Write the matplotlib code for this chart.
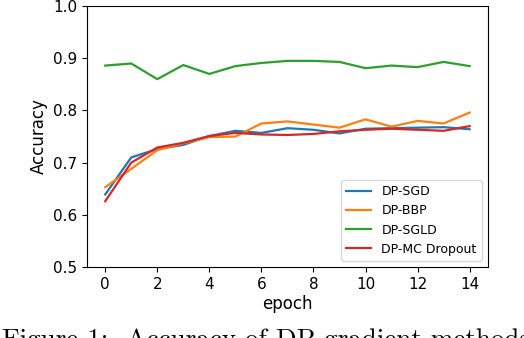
import matplotlib.pyplot as plt

# accuracy per epoch
epochs = list(range(15))
acc_sgd = [0.639, 0.710, 0.726, 0.734, 0.751, 0.761, 0.757, 0.766, 0.763,
           0.756, 0.765, 0.766, 0.767, 0.768, 0.764]
acc_bbp = [0.653, 0.688, 0.724, 0.737, 0.749, 0.750, 0.775, 0.779, 0.773,
           0.767, 0.783, 0.769, 0.780, 0.775, 0.796]
acc_sgld = [0.886, 0.890, 0.860, 0.887, 0.870, 0.885, 0.891, 0.895, 0.895,
            0.893, 0.881, 0.886, 0.883, 0.893, 0.885]
acc_mc = [0.626, 0.700, 0.729, 0.738, 0.751, 0.757, 0.754, 0.753, 0.755,
          0.760, 0.763, 0.765, 0.763, 0.761, 0.770]
noms = ["DP-SGD", "DP-BBP", "DP-SGLD", "DP-MC Dropout"]

fig = plt.figure(figsize=(5.24, 3.38), dpi=100)
ax = fig.add_axes([0.166, 0.21, 0.765, 0.772])

for serie, nom in zip([acc_sgd, acc_bbp, acc_sgld, acc_mc], noms):
    ax.plot(epochs, serie, label=nom, linewidth=1.6)

ax.set_ylim(0.5, 1.0)
ax.set_xticks(range(0, 15, 2))
ax.tick_params(labelsize=11)
ax.set_xlabel("epoch", fontsize=12, labelpad=2)
ax.set_ylabel("Accuracy", fontsize=12)
ax.legend(loc="lower right", fontsize=9)

# légende de la figure (coupée en bas comme dans le papier)
fig.text(0.003, -0.027, "Figure 1:  Accuracy of DP gradient methods",
         family="cmr10", fontsize=19.5, ha="left", va="baseline")

fig.savefig("out.png", dpi=100)
